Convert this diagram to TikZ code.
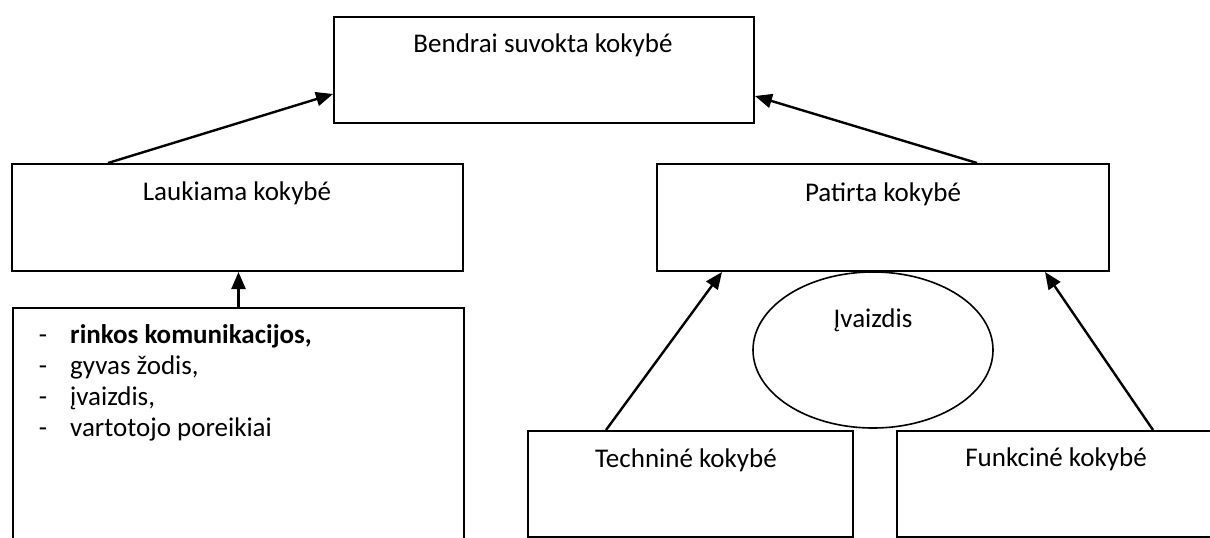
\documentclass[tikz,border=0pt]{standalone}
\usepackage{fontspec}
\setmainfont{Carlito}
\usetikzlibrary{arrows.meta,shapes.geometric}
\begin{document}
\begin{tikzpicture}[x=1pt,y=-1pt,
  box/.style={draw, line width=2pt, rectangle, inner sep=0pt, anchor=north west},
  lbl/.style={anchor=base, inner sep=0pt, font=\fontsize{27}{32}\selectfont},
  conn/.style={line width=2.4pt, -{Triangle[length=17pt,width=14pt]}}]
\useasboundingbox (0,0) rectangle (1210,538);
% boxes
\node[box, minimum width=420pt, minimum height=106pt] (top) at (333,16) {};
\node[box, minimum width=451pt, minimum height=107pt] (lauk) at (11,163) {};
\node[box, minimum width=452pt, minimum height=107pt] (pat) at (656,163) {};
\node[box, minimum width=451pt, minimum height=260pt] (list) at (12,307) {};
\node[box, minimum width=325pt, minimum height=106pt] (tech) at (527,430) {};
\node[box, minimum width=400pt, minimum height=106pt] (funk) at (896,430) {};
\node[draw, ellipse, line width=1.6pt, inner sep=0pt, minimum width=240pt, minimum height=156pt] (img) at (873,350) {};
% labels
\node[lbl] (topT) at (543,52) {Bendrai suvokta kokybé};
\node[lbl] (laukT) at (237,200) {Laukiama kokybé};
\node[lbl] (patT) at (883,201) {Patirta kokybé};
\node[lbl] (imgT) at (873,327) {Įvaizdis};
\node[lbl] (techT) at (686,467) {Techniné kokybé};
\node[lbl] (funkT) at (1056,466) {Funkciné kokybé};
% list
\node[lbl] (d1) at (43,343) {-};
\node[lbl] (d2) at (43,374) {-};
\node[lbl] (d3) at (43,405) {-};
\node[lbl] (d4) at (43,436) {-};
\node[lbl, anchor=base west] (b1) at (70,343) {\bfseries rinkos komunikacijos,};
\node[lbl, anchor=base west] (b2) at (70,374) {gyvas žodis,};
\node[lbl, anchor=base west] (b3) at (70,405) {įvaizdis,};
\node[lbl, anchor=base west] (b4) at (70,436) {vartotojo poreikiai};
% connectors
\draw[conn] ([xshift=97pt]lauk.north west) -- ([yshift=-24pt]top.west);
\draw[conn] ([xshift=321pt]pat.north west) -- ([yshift=-26pt]top.east);
\draw[conn] (list.north) -- (list.north |- lauk.south);
\draw[conn] ([xshift=79pt]tech.north west) -- ([xshift=66pt]pat.south west);
\draw[conn] ([xshift=257pt]funk.north west) -- ([xshift=389pt]pat.south west);
\end{tikzpicture}
\end{document}
